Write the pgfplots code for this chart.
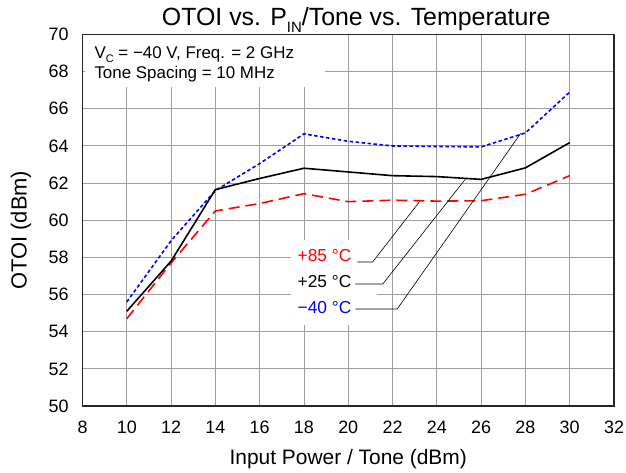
\documentclass[border=0pt]{standalone}
\usepackage{fontspec}
\setmainfont{Liberation Sans}
\usepackage{pgfplots}
\pgfplotsset{compat=1.18}
\usetikzlibrary{calc}

\newcommand{\fs}[1]{\fontsize{#1}{#1}\selectfont}

\begin{document}
\begin{tikzpicture}
\begin{axis}[
  at={(0,0)}, anchor=south west,
  scale only axis, width=531.5bp, height=371.5bp,
  xmin=8, xmax=32, ymin=50, ymax=70,
  xtick distance=2, ytick distance=2,
  major tick length=0pt,
  grid=major,
  major grid style={draw=black!38, line width=0.9bp},
  axis line style={black!85, line width=1.4bp},
  tick label style={font=\fs{18}},
  /pgf/number format/assume math mode=true,
  xticklabel style={yshift=-11.5bp},
  yticklabel style={xshift=-10.5bp},
  clip=false,
]
  % +85 C
  \addplot[red, line width=1.6bp, dash pattern=on 11bp off 6bp] coordinates {
    (10,54.7)(12,57.7)(14,60.5)(16,60.9)(18,61.43)(20,61.0)(22,61.08)(24,61.03)(26,61.05)(28,61.4)(30,62.4)
  };
  % -40 C
  \addplot[blue, line width=1.6bp, dash pattern=on 3.5bp off 2.5bp] coordinates {
    (10,55.6)(12,58.9)(14,61.6)(16,63.05)(18,64.65)(20,64.25)(22,64.0)(24,63.97)(26,63.95)(28,64.7)(30,66.9)
  };
  % +25 C
  \addplot[black, line width=1.6bp] coordinates {
    (10,55.1)(12,57.8)(14,61.65)(16,62.25)(18,62.8)(20,62.6)(22,62.4)(24,62.35)(26,62.2)(28,62.82)(30,64.18)
  };

  % white boxes behind the notes
  \fill[white] (axis cs:8.1,69.95) rectangle (axis cs:18.96,67.18);
  \fill[white] (axis cs:17.41,58.94) rectangle (axis cs:21.30,54.36);

  \node[anchor=base west, inner sep=0, font=\fs{17}] at (axis cs:8.533,68.72)
    {V\raisebox{-0.25em}{\fs{11}C} = −40 V, Freq. = 2 GHz};
  \node[anchor=base west, inner sep=0, font=\fs{17}] at (axis cs:8.533,67.61)
    {Tone Spacing = 10 MHz};

  \node[anchor=base east, inner sep=0, font=\fs{17.4}, text=red] at (axis cs:20.147,57.806) {+85 °C};
  \node[anchor=base east, inner sep=0, font=\fs{17.4}, text=black] at (axis cs:20.147,56.379) {+25 °C};
  \node[anchor=base east, inner sep=0, font=\fs{17.4}, text=blue] at (axis cs:20.147,54.953) {−40 °C};

  \draw[black, line width=0.6bp] (axis cs:20.41,57.75) -- (axis cs:21.10,57.75) -- (axis cs:23.21,60.99);
  \draw[black, line width=0.6bp] (axis cs:20.32,56.57) -- (axis cs:21.56,56.57) -- (axis cs:25.32,62.26);
  \draw[black, line width=0.6bp] (axis cs:20.32,55.22) -- (axis cs:22.21,55.22) -- (axis cs:27.79,64.68);

  % title and axis labels
  \node[anchor=base, font=\fs{25}] at ($(rel axis cs:0.5,1)+(8bp,8.5bp)$)
    {OTOI vs. P\raisebox{-0.28em}{\fs{15}IN}/Tone vs. Temperature};
  \node[anchor=base, font=\fs{21}] at ($(rel axis cs:0.5,0)+(0bp,-58.3bp)$)
    {Input Power / Tone (dBm)};
  \node[anchor=base, rotate=90, font=\fs{22}] at ($(rel axis cs:0,0.5)+(-55.8bp,-10bp)$)
    {OTOI (dBm)};
\end{axis}
\pgfresetboundingbox
\path[use as bounding box] (-82.5bp,-66.3bp) rectangle (543.5bp,406bp);
\end{tikzpicture}
\end{document}
